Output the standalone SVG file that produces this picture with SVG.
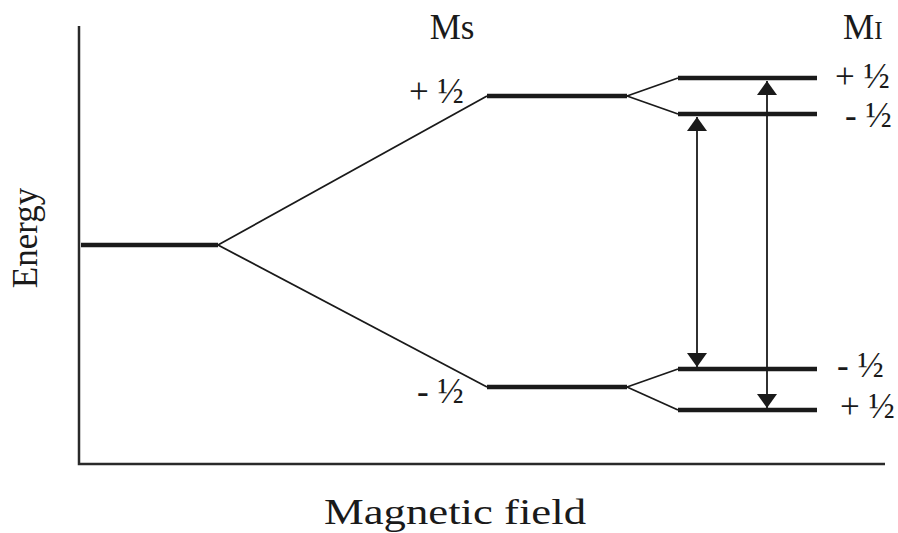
<svg xmlns="http://www.w3.org/2000/svg" width="898" height="533" viewBox="0 0 898 533">
<defs>
<style>
.t{font-family:"Liberation Serif","Times New Roman",serif;fill:#1a1a1a;font-size:35px}
.thin{stroke:#1a1a1a;stroke-width:1.8;fill:none}
.lvl{stroke:#1a1a1a;stroke-width:4.5;fill:none}
.ax{stroke:#2a2a2a;stroke-width:2.5;fill:none}
</style>
<marker id="ah" viewBox="0 0 14 20" refX="14" refY="10" markerWidth="14" markerHeight="20" markerUnits="userSpaceOnUse" orient="auto-start-reverse">
<path d="M0,0 L14,10 L0,20 Z" fill="#1a1a1a"/>
</marker>
</defs>
<rect width="898" height="533" fill="#fff"/>
<g id="axes">
<path class="ax" d="M79,26 V464 H885"/>
</g>
<g id="levels">
<line class="lvl" x1="81" y1="245" x2="218" y2="245"/>
<line class="lvl" x1="487" y1="96" x2="627" y2="96"/>
<line class="lvl" x1="487" y1="387" x2="627" y2="387"/>
<line class="lvl" x1="678" y1="78" x2="817" y2="78"/>
<line class="lvl" x1="678" y1="114" x2="817" y2="114"/>
<line class="lvl" x1="678" y1="369" x2="817" y2="369"/>
<line class="lvl" x1="678" y1="410" x2="817" y2="410"/>
</g>
<g id="connectors">
<line class="thin" x1="218" y1="245" x2="487" y2="96"/>
<line class="thin" x1="218" y1="245" x2="487" y2="387"/>
<line class="thin" x1="627" y1="96" x2="678" y2="78"/>
<line class="thin" x1="627" y1="96" x2="678" y2="114"/>
<line class="thin" x1="627" y1="387" x2="678" y2="369"/>
<line class="thin" x1="627" y1="387" x2="678" y2="410"/>
<line class="thin" x1="697" y1="117" x2="697" y2="367" marker-start="url(#ah)" marker-end="url(#ah)"/>
<line class="thin" x1="767" y1="81" x2="767" y2="408" marker-start="url(#ah)" marker-end="url(#ah)"/>
</g>
<g id="labels">
<text class="t" x="452" y="39" text-anchor="middle">Ms</text>
<text class="t" x="843" y="39">M<tspan font-size="25">I</tspan></text>
<text class="t" x="409" y="103">+ ½</text>
<text class="t" x="417" y="403">- ½</text>
<text class="t" x="835" y="88">+ ½</text>
<text class="t" x="845" y="127">- ½</text>
<text class="t" x="837" y="377">- ½</text>
<text class="t" x="840" y="418">+ ½</text>
<text class="t" x="0" y="0" text-anchor="middle" transform="translate(37,238) rotate(-90)">Energy</text>
<text class="t" x="455" y="524" text-anchor="middle" textLength="262" lengthAdjust="spacingAndGlyphs">Magnetic field</text>
</g>
</svg>
